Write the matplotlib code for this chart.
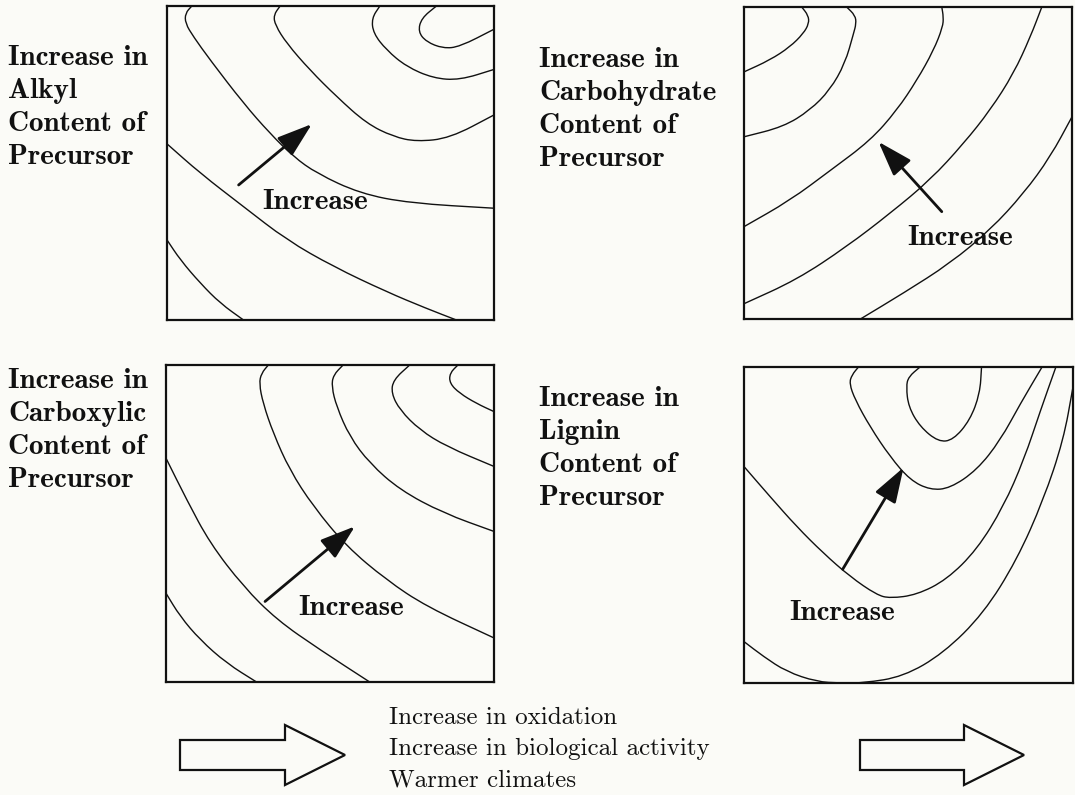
import numpy as np
import matplotlib
matplotlib.use("Agg")
import matplotlib.pyplot as plt
from matplotlib.path import Path
from matplotlib.patches import PathPatch, FancyArrow

# ---------------- data (panel coordinates, 0..100) ----------------
alkyl_curves = [
    [(7.6, 100), (5.6, 97.7), (5.6, 94.5), (8.1, 90.2), (13.2, 82.8), (23.4, 69.0), (31.5, 59.4),
     (38.7, 52.0), (45.8, 46.7), (59.0, 40.3), (74.3, 37.2), (100, 35.6)],
    [(34.6, 100), (32.6, 97.1), (33.1, 93.9), (36.6, 88.1), (43.7, 79.6), (51.9, 71.1), (61.0, 62.6),
     (69.2, 58.4), (76.3, 56.8), (86.5, 57.9), (100, 65.3)],
    [(65.1, 100), (62.6, 96.1), (63.1, 91.3), (67.1, 86.0), (73.2, 80.7), (81.4, 77.0), (89.5, 76.4),
     (100, 79.8)],
    [(82.4, 100), (77.8, 96.1), (76.8, 91.8), (79.3, 88.6), (84.4, 86.5), (89.5, 87.0), (100, 92.6)],
    [(0, 56.1), (10.2, 46.7), (23.4, 36.1), (36.6, 25.5), (50.9, 17.0), (67.1, 9.0), (79.3, 3.7),
     (88.5, 0.0)],
    [(0, 25.5), (4.1, 19.1), (10.2, 11.7), (16.3, 5.3), (23.4, 0.0)],
]
alkyl_arrow = [(21.9, 43.0), (44.3, 62.4)]
alkyl_text_pos = (45.3, 37.7)

carbohydrate_curves = [
    [(17.6, 100), (19.6, 97.3), (19.8, 94.7), (18.1, 91.5), (14.0, 87.2), (7.9, 83.0), (0, 79.2)],
    [(31.3, 100), (33.9, 97.3), (34.2, 94.7), (33.4, 91.5), (30.8, 81.9), (26.2, 73.4), (20.1, 66.9),
     (12.0, 61.6), (0, 58.4)],
    [(60.3, 100), (60.8, 96.8), (60.6, 93.6), (57.8, 86.1), (52.7, 76.5), (46.6, 66.9), (38.5, 57.2),
     (26.3, 47.6), (14.0, 38.0), (0, 29.6)],
    [(90.8, 100), (87.3, 90.4), (82.2, 78.7), (75.1, 67.0), (67.0, 56.3), (56.8, 44.6), (44.6, 33.9),
     (31.3, 23.2), (16.1, 12.6), (0, 4.9)],
    [(100, 64.8), (93.4, 52.0), (85.3, 40.3), (75.1, 28.6), (62.9, 17.9), (48.6, 8.3), (35.5, 0.0)],
]
carbohydrate_arrow = [(60.3, 34.4), (41.0, 56.8)]
carbohydrate_text_pos = (65.9, 25.9)

carboxylic_curves = [
    [(31.2, 100), (29.1, 97.4), (28.4, 94.2), (29.6, 87.9), (32.7, 78.5), (37.7, 66.9), (44.9, 55.4),
     (55.0, 42.8), (67.2, 32.2), (79.4, 23.8), (100, 13.9)],
    [(54.0, 100), (51.0, 96.8), (50.5, 93.2), (52.0, 86.9), (56.0, 77.4), (62.1, 69.0), (71.3, 60.6),
     (84.5, 53.3), (100, 47.5)],
    [(74.3, 100), (69.3, 95.3), (68.7, 91.1), (71.3, 85.8), (77.4, 79.5), (85.5, 74.3), (100, 68.0)],
    [(89.0, 100), (86.5, 97.4), (86.5, 94.2), (89.5, 91.1), (94.6, 87.9), (100, 85.3)],
    [(0, 70.6), (6.3, 57.5), (13.4, 43.8), (23.6, 30.1), (33.8, 19.6), (46.9, 10.2), (62.1, 0.0)],
    [(0, 28.0), (4.3, 20.7), (10.4, 13.3), (18.5, 5.9), (27.6, 0.0)],
]
carboxylic_arrow = [(30.2, 25.4), (57.6, 49.1)]
carboxylic_text_pos = (56.5, 23.3)

lignin_curves = [
    [(53.5, 100), (50.0, 96.9), (49.3, 93.8), (50.0, 87.4), (53.5, 81.1), (59.1, 76.3), (63.6, 76.9),
     (68.7, 83.2), (71.7, 91.6), (72.2, 100)],
    [(34.8, 100), (32.8, 97.5), (32.0, 94.8), (33.8, 89.6), (38.3, 81.1), (44.4, 71.6), (50.5, 64.2),
     (56.6, 61.1), (62.6, 61.6), (70.8, 67.4), (77.9, 76.8), (84.0, 88.4), (90.6, 100)],
    [(0, 68.5), (7.9, 59.0), (16.0, 49.5), (24.1, 41.1), (32.2, 33.7), (40.3, 27.9), (44.4, 26.8),
     (52.5, 27.9), (61.6, 32.7), (70.8, 42.2), (78.9, 55.9), (85.1, 70.7), (90.2, 86.5), (94.8, 100)],
    [(0, 13.1), (5.9, 8.4), (12.9, 3.6), (22.1, 0.4), (29.2, 0.0), (36.3, 0.0), (48.4, 2.0),
     (60.6, 9.4), (72.8, 22.0), (82.9, 38.9), (91.0, 57.9), (97.1, 76.9), (100, 93.7)],
]
lignin_arrow = [(30.0, 36.0), (48.5, 68.2)]
lignin_text_pos = (29.7, 22.0)

panel_labels = [
    "Increase in\nAlkyl\nContent of\nPrecursor",
    "Increase in\nCarbohydrate\nContent of\nPrecursor",
    "Increase in\nCarboxylic\nContent of\nPrecursor",
    "Increase in\nLignin\nContent of\nPrecursor",
]
arrow_label = "Increase"
bottom_lines = ["Increase in oxidation", "Increase in biological activity", "Warmer climates"]

# ---------------- layout ----------------
W, H = 1075, 795
BG = "#fbfbf7"
fig = plt.figure(figsize=(W / 100, H / 100), dpi=100, facecolor=BG)

def box(x0, y0, x1, y1):
    return [x0 / W, 1 - y1 / H, (x1 - x0) / W, (y1 - y0) / H]

panel_boxes = [box(167, 6, 494, 320), box(744, 7, 1072, 319),
               box(166, 365, 494, 682), box(744, 367, 1073, 683)]

def smooth_path(pts):
    p = np.asarray(pts, float)
    verts = [p[0], (p[0] + p[1]) / 2]
    codes = [Path.MOVETO, Path.LINETO]
    for i in range(1, len(p) - 1):
        verts += [p[i], (p[i] + p[i + 1]) / 2]
        codes += [Path.CURVE3, Path.CURVE3]
    verts.append(p[-1])
    codes.append(Path.LINETO)
    return Path(verts, codes)

panels = [
    (alkyl_curves, alkyl_arrow, alkyl_text_pos),
    (carbohydrate_curves, carbohydrate_arrow, carbohydrate_text_pos),
    (carboxylic_curves, carboxylic_arrow, carboxylic_text_pos),
    (lignin_curves, lignin_arrow, lignin_text_pos),
]

BOLD = "cmb10"
REG = "cmr10"
INK = "#111111"

for rect, (curves, arr, tpos) in zip(panel_boxes, panels):
    ax = fig.add_axes(rect)
    ax.set_xlim(0, 100)
    ax.set_ylim(0, 100)
    ax.set_facecolor("none")
    ax.set_xticks([])
    ax.set_yticks([])
    for s in ax.spines.values():
        s.set_linewidth(1.6)
        s.set_color(INK)
    for c in curves:
        ax.add_patch(PathPatch(smooth_path(c), fill=False, lw=1.0, edgecolor=INK))
    ax.annotate("", xy=arr[1], xytext=arr[0],
                arrowprops=dict(arrowstyle="-|>,head_length=0.9,head_width=0.3",
                                lw=2.0, color=INK, mutation_scale=24,
                                shrinkA=0, shrinkB=0))
    ax.text(tpos[0], tpos[1], arrow_label, fontfamily=BOLD, fontsize=21,
            ha="center", va="center", color=INK)

# overlay for labels and hollow arrows (pixel coordinates)
ov = fig.add_axes([0, 0, 1, 1])
ov.set_xlim(0, W)
ov.set_ylim(H, 0)
ov.axis("off")
ov.set_facecolor("none")

label_pos = [(8, 58), (539, 60), (8, 381), (539, 399)]
for (x, y), lab in zip(label_pos, panel_labels):
    for k, line in enumerate(lab.split("\n")):
        ov.text(x, y + k * 33, line, fontfamily=BOLD, fontsize=21,
                ha="left", va="center", color=INK)

for k, line in enumerate(bottom_lines):
    ov.text(389, 718 + k * 31, line, fontfamily=REG, fontsize=18,
            ha="left", va="center", color=INK)

for x0, x1 in [(180, 345), (860, 1024)]:
    ov.add_patch(FancyArrow(x0, 755, x1 - x0, 0, width=30, head_width=60, head_length=60,
                            length_includes_head=True, facecolor="none",
                            edgecolor=INK, lw=1.6))

fig.savefig("out.png", dpi=100, facecolor=BG)
